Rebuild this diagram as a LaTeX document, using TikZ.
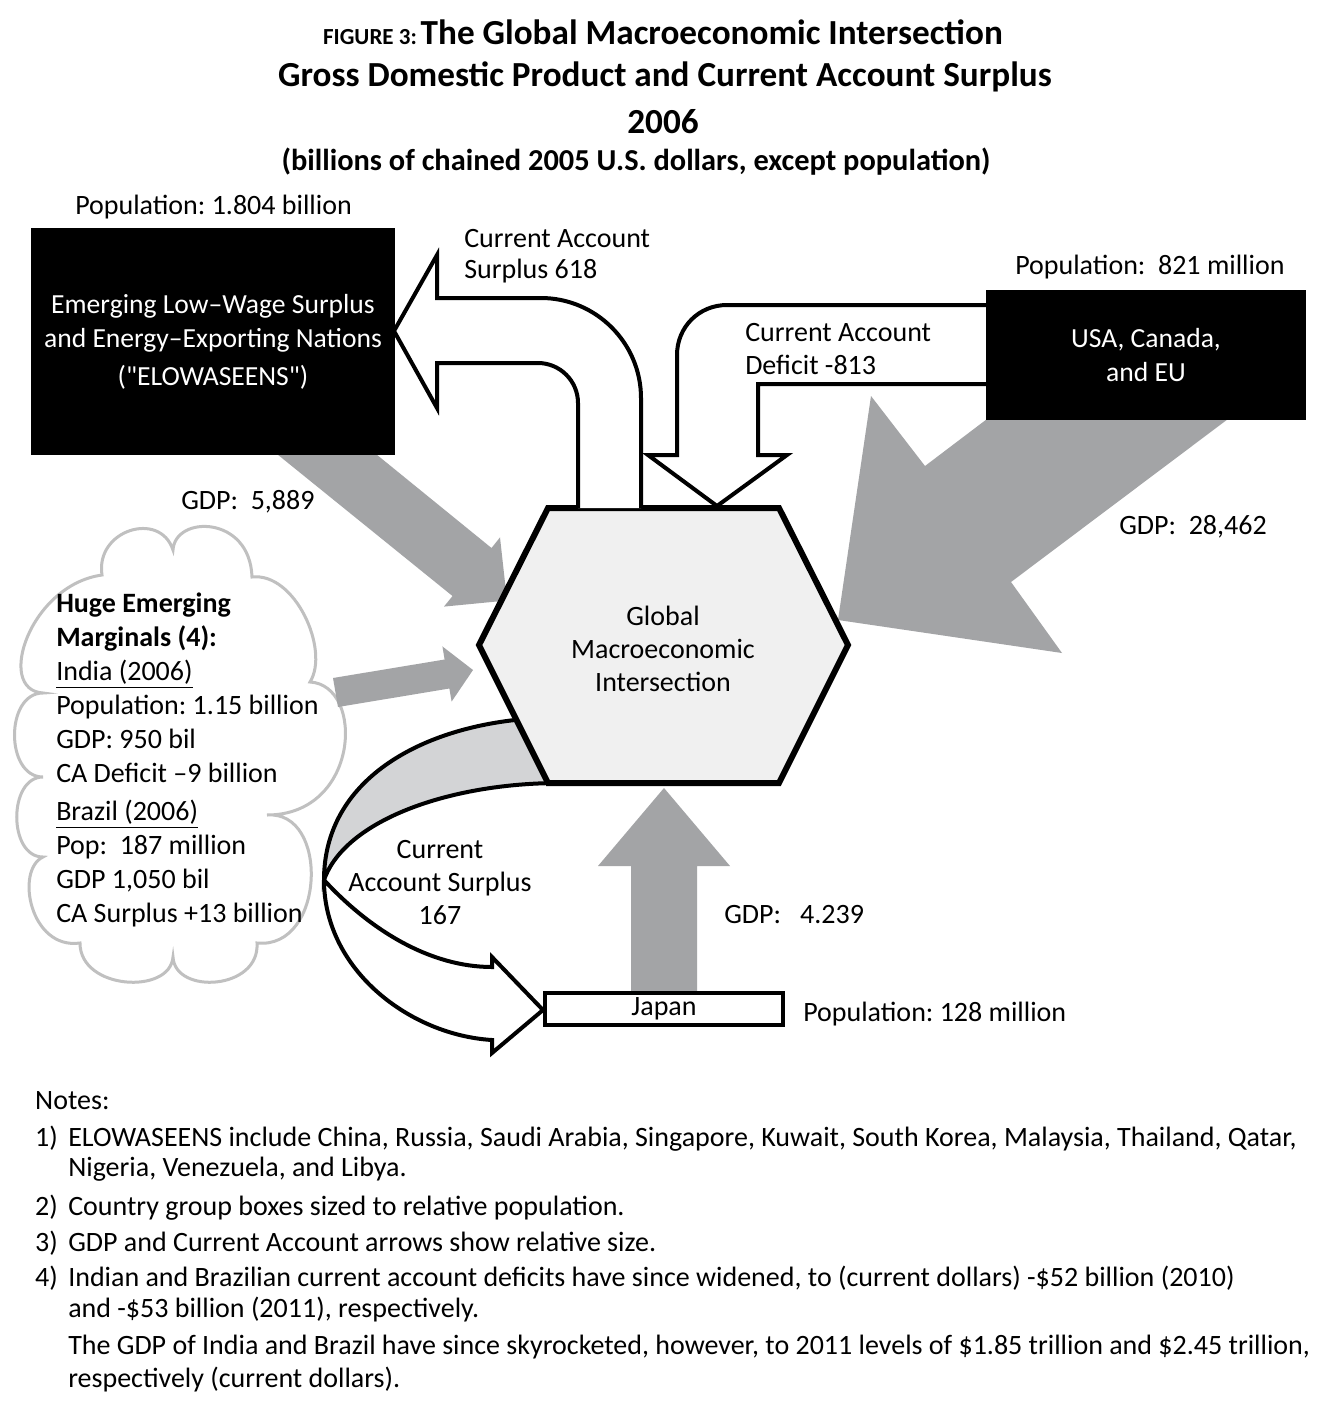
\documentclass[tikz,border=0pt]{standalone}
\usepackage{fontspec}
\setmainfont{Carlito}
\usepackage{tikz}
\definecolor{gdpgray}{RGB}{163,164,166}
\definecolor{hubgray}{RGB}{240,240,240}
\definecolor{ribbongray}{RGB}{211,212,214}
\definecolor{cloudgray}{RGB}{192,192,192}
\tikzset{every picture/.style={line width=0.75pt}}
\tikzset{
  txt/.style={inner sep=0.75pt, font=\fontsize{14}{16.5}\selectfont},
  ttl/.style={inner sep=0.75pt, font=\fontsize{17.6}{20}\selectfont\bfseries},
  countrybox/.style={fill=black, text=white, align=center, inner sep=0pt, font=\fontsize{13.8}{17}\selectfont},
  flowline/.style={draw=black, line width=2pt, line join=miter},
}

\begin{document}
\frenchspacing
\begin{tikzpicture}[x=0.50pt,y=0.50pt,yscale=-1]
\useasboundingbox (0,0) rectangle (1333,1425);
\fill[white] (0,0) rectangle (1333,1425);

% Title
\draw (663,32) node [ttl] (title1) {{\fontsize{11.5}{13}\selectfont FIGURE 3:\,}The Global Macroeconomic Intersection};
\draw (665,77) node [ttl] (title2) {Gross Domestic Product and Current Account Surplus};
\draw (663,122) node [ttl] (title3) {2006};
\draw (636,162) node [ttl, font=\fontsize{15.2}{18}\selectfont\bfseries] (title4) {(billions of chained 2005 U.S. dollars, except population)};

%Shape: Cloud
\draw [cloudgray, line width=1.5pt, fill=white] (102,575) .. controls (95,530) and (160,510) .. (173,550)
  .. controls (175,515) and (250,515) .. (252,577)
  .. controls (295,572) and (330,650) .. (310,682)
  .. controls (365,685) and (360,815) .. (267,815)
  .. controls (330,810) and (325,950) .. (257,943)
  .. controls (260,990) and (175,995) .. (173,957)
  .. controls (170,995) and (80,990) .. (80,943)
  .. controls (30,950) and (15,870) .. (43,857)
  .. controls (8,857) and (8,777) .. (43,777)
  .. controls (5,777) and (5,693) .. (43,693)
  .. controls (-5,690) and (30,585) .. (102,575) -- cycle ;

%Shape: GDP arrow, ELOWASEENS
\fill [gdpgray] (272,450) -- (452.5,596) -- (444,606.6) -- (507,600.5) -- (500,537.4) -- (491.5,548) -- (371,450) -- cycle ;
%Shape: GDP arrow, USA Canada EU
\fill [gdpgray] (991,416) -- (925,466) -- (871,396) -- (838,620) -- (1062,653) -- (1011,582) -- (1232,416) -- cycle ;
%Shape: GDP arrow, India
\fill [gdpgray] (333,678) -- (444.6,659.5) -- (442.4,646.4) -- (473,670) -- (451.6,701.6) -- (449.4,688.5) -- (338,707) -- cycle ;
%Shape: GDP arrow, Japan
\fill [gdpgray] (631,995) -- (631,866) -- (598,866) -- (664,788) -- (730,866) -- (697,866) -- (697,995) -- cycle ;

%Shape: Ribbon, back side
\draw [flowline, fill=ribbongray] (525,719) .. controls (420,728) and (324,780) .. (324,880)
  .. controls (345,820) and (450,783) .. (560,783) ;
%Shape: Ribbon, front side with head
\draw [flowline, fill=white] (324,880) .. controls (324,970) and (410,1035) .. (492,1040)
  -- (492,1053) -- (543,1010) -- (492,957) -- (492,967)
  .. controls (430,967) and (370,930) .. (324,880) ;

%Shape: Hexagon
\draw [line width=3pt, fill=hubgray] (479,645) coordinate (hubW) -- (548,508) coordinate (hubNW) -- (779,508) coordinate (hubNE)
  -- (848,645) coordinate (hubE) -- (779,783) coordinate (hubSE) -- (548,783) coordinate (hubSW) -- cycle ;

%Shape: Current account surplus arrow
\draw [flowline, fill=white] (641,508) -- (641,398) .. controls (641,343) and (596,298) .. (541,298) -- (437,298)
  -- (437,255) -- (394,331) -- (437,408) -- (437,363) -- (538,363)
  .. controls (560,363) and (578,381) .. (578,403) -- (578,508) ;
%Shape: Current account deficit arrow
\draw [flowline, fill=white] (990,305) -- (727,305) .. controls (699,305) and (677,327) .. (677,355) -- (677,455)
  -- (648,455) -- (717,506) -- (787,455) -- (758,455) -- (758,384) -- (990,384) ;

%Shape: Rectangle, ELOWASEENS
\draw (213,341.5) node [countrybox, minimum width=182pt, minimum height=113.5pt] (elobox) {Emerging Low--Wage Surplus\\and Energy--Exporting Nations\\[2pt](\textquotedbl ELOWASEENS\textquotedbl)};
%Shape: Rectangle, USA Canada EU
\draw (1146,355) node [countrybox, minimum width=160pt, minimum height=65pt] (usabox) {USA, Canada,\\and EU};
%Shape: Rectangle, Japan
\draw (664,1009) node [draw, line width=2pt, fill=white, minimum width=119pt, minimum height=16pt, inner sep=0pt, font=\fontsize{14}{15}\selectfont] (japanbox) {Japan};

% Text Node
\draw (73,214) node [anchor=base west][txt] (elopop) {Population: 1.804 billion};
% Text Node
\draw (462,256) node [anchor=west][txt, align=left, font=\fontsize{14}{15.5}\selectfont] (surplus618) {Current Account\\Surplus 618};
% Text Node
\draw (1013,274) node [anchor=base west][txt] (usapop) {Population:~~821 million};
% Text Node
\draw (743,349.5) node [anchor=west][txt, align=left] (deficit813) {Current Account\\Deficit -813};
% Text Node
\draw (179,509) node [anchor=base west][txt] (elogdp) {GDP:~~5,889};
% Text Node
\draw (1117,534) node [anchor=base west][txt] (usagdp) {GDP:~~28,462};
% Text Node
\draw (663,649) node [txt, align=center] (hubtext) {Global\\Macroeconomic\\Intersection};
% Text Node
\draw (54,760) node [anchor=west][txt, align=left, font=\fontsize{14}{17}\selectfont] (hemtext) {\textbf{Huge Emerging}\\\textbf{Marginals (4):}\\\underline{India (2006)}\\Population: 1.15 billion\\GDP: 950 bil\\CA Deficit --9 billion\\[2pt]\underline{Brazil (2006)}\\Pop:~~187 million\\GDP 1,050 bil\\CA Surplus +13 billion};
% Text Node
\draw (440,883) node [txt, align=center] (surplus167) {Current\\Account Surplus\\167};
% Text Node
\draw (722,923) node [anchor=base west][txt] (japangdp) {GDP:~~~4.239};
% Text Node
\draw (801,1021) node [anchor=base west][txt] (japanpop) {Population: 128 million};

% Notes
\draw (33,1109) node [anchor=base west][txt] (notes) {Notes:};
\draw (33,1146) node [anchor=base west][txt] (note1num) {1)};
\draw (66,1146) node [anchor=base west][txt] (note1a) {ELOWASEENS include China, Russia, Saudi Arabia, Singapore, Kuwait, South Korea, Malaysia, Thailand, Qatar,};
\draw (66,1176) node [anchor=base west][txt] (note1b) {Nigeria, Venezuela, and Libya.};
\draw (33,1215) node [anchor=base west][txt] (note2num) {2)};
\draw (66,1215) node [anchor=base west][txt] (note2) {Country group boxes sized to relative population.};
\draw (33,1251) node [anchor=base west][txt] (note3num) {3)};
\draw (66,1251) node [anchor=base west][txt] (note3) {GDP and Current Account arrows show relative size.};
\draw (33,1286) node [anchor=base west][txt] (note4num) {4)};
\draw (66,1286) node [anchor=base west][txt] (note4a) {Indian and Brazilian current account deficits have since widened, to (current dollars) -\$52 billion (2010)};
\draw (66,1317) node [anchor=base west][txt] (note4b) {and -\$53 billion (2011), respectively.};
\draw (66,1354) node [anchor=base west][txt] (note4c) {The GDP of India and Brazil have since skyrocketed, however, to 2011 levels of \$1.85 trillion and \$2.45 trillion,};
\draw (66,1387) node [anchor=base west][txt] (note4d) {respectively (current dollars).};

\end{tikzpicture}
\end{document}
